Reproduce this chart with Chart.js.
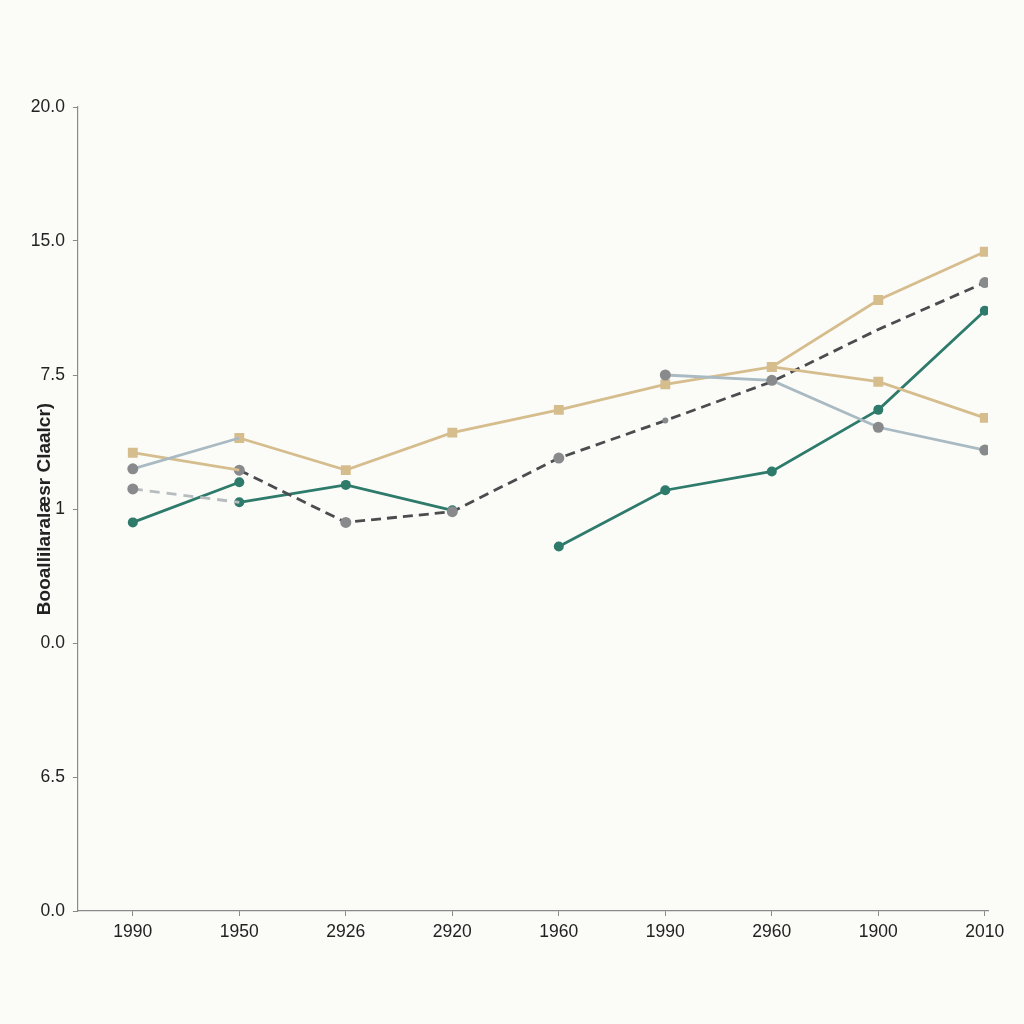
<!DOCTYPE html>
<html>
<head>
<meta charset="utf-8">
<script src="https://cdn.jsdelivr.net/npm/chart.js@4.4.1/dist/chart.umd.min.js"></script>
<style>
html,body{margin:0;padding:0;background:#fbfcf8;}
#wrap{width:1024px;height:1024px;}
</style>
</head>
<body>
<div id="wrap"><canvas id="c" width="1024" height="1024"></canvas></div>
<script>
const categories = ["1990","1950","2926","2920","1960","1990","2960","1900","2010"];
const yTickLabels = ["0.0","6.5","0.0","1","7.5","15.0","20.0"];
const yTitle = "Booallilaralæsr Claalcr)";

const tanMain   = [null, 3.53, 3.29, 3.57, 3.74, 3.93, 4.06, 4.56, 4.92];
const tanSecond = [3.42, 3.29, null, null, null, null, 4.06, 3.95, 3.68];
const blueGray  = [3.30, 3.53, null, null, null, 4.00, 3.96, 3.61, 3.44];
const darkDash  = [null, 3.29, 2.90, 2.98, 3.38, 3.66, 3.95, 4.34, 4.69];
const lightDash = [3.15, 3.05, null, null, null, null, null, null, null];
const tealA     = [2.90, 3.20, null, null, 2.72, 3.14, 3.28, 3.74, 4.48];
const tealB     = [null, 3.05, 3.18, 2.99, null, null, null, null, null];

function pts(arr){ return arr.map((v,i)=> ({x:i, y:v})); }

const TAN = "#d6bd8e", TEAL = "#2e7a6b", BLUE = "#a9bac2", GRAY = "#888a8c", DARK = "#4a4c4e";

const datasets = [
  {data: pts(lightDash), borderColor:"#b8bcbf", borderDash:[10,7], borderWidth:2.8,
   pointRadius:[5.5,0,0,0,0,0,0,0,0], pointBackgroundColor:GRAY, pointBorderWidth:0},
  {data: pts(blueGray), borderColor:BLUE, borderWidth:2.8,
   pointRadius:[5.5,0,0,0,0,5.5,5.5,5.5,5.5], pointBackgroundColor:GRAY, pointBorderWidth:0},
  {data: pts(tanSecond), borderColor:TAN, borderWidth:2.8, pointStyle:'rect',
   pointRadius:[7,0,0,0,0,0,7,7,7], pointBackgroundColor:TAN, pointBorderWidth:0},
  {data: pts(darkDash), borderColor:DARK, borderDash:[10,6], borderWidth:2.8,
   pointRadius:[5.5,5.5,5.5,5.5,5.5,3,0,0,5.5], pointBackgroundColor:GRAY, pointBorderWidth:0},
  {data: pts(tealB), borderColor:TEAL, borderWidth:2.8,
   pointRadius:5, pointBackgroundColor:TEAL, pointBorderWidth:0},
  {data: pts(tealA), borderColor:TEAL, borderWidth:2.8,
   pointRadius:5, pointBackgroundColor:TEAL, pointBorderWidth:0},
  {data: pts(tanMain), borderColor:TAN, borderWidth:2.8, pointStyle:'rect',
   pointRadius:7, pointBackgroundColor:TAN, pointBorderWidth:0},
];

const bgPlugin = {
  id:'bg',
  beforeDraw(chart){
    const ctx = chart.ctx;
    ctx.save(); ctx.fillStyle = "#fbfcf8"; ctx.fillRect(0,0,chart.width,chart.height); ctx.restore();
  }
};

new Chart(document.getElementById('c'), {
  type:'line',
  data:{datasets},
  plugins:[bgPlugin],
  options:{
    responsive:false,
    animation:false,
    spanGaps:false,
    layout:{padding:{left:0, right:36, top:107, bottom:75}},
    plugins:{legend:{display:false}, tooltip:{enabled:false}},
    scales:{
      x:{
        type:'linear', min:-0.516, max:8.03,
        afterBuildTicks(scale){ scale.ticks = categories.map((c,i)=>({value:i})); },
        ticks:{callback:(v)=>categories[v], color:"#222", font:{family:"'Liberation Sans', Arial", size:17.5}, padding:6, maxRotation:0, autoSkip:false},
        grid:{drawOnChartArea:false, drawTicks:true, tickLength:5, color:"#8a8a8a"},
        border:{display:true, color:"#8a8a8a", width:1.2}
      },
      y:{
        type:'linear', min:0, max:6,
        afterBuildTicks(scale){ scale.ticks = yTickLabels.map((l,i)=>({value:i})); },
        ticks:{callback:(v)=>yTickLabels[v], color:"#222", font:{family:"'Liberation Sans', Arial", size:17.5}, padding:8},
        grid:{drawOnChartArea:false, drawTicks:true, tickLength:5, color:"#8a8a8a"},
        border:{display:true, color:"#8a8a8a", width:1.2},
        title:{display:true, text:yTitle, color:"#222", font:{family:"'Liberation Sans', Arial", size:19, weight:'bold'}, padding:{top:33, bottom:-33}}
      }
    }
  }
});
</script>
</body>
</html>
